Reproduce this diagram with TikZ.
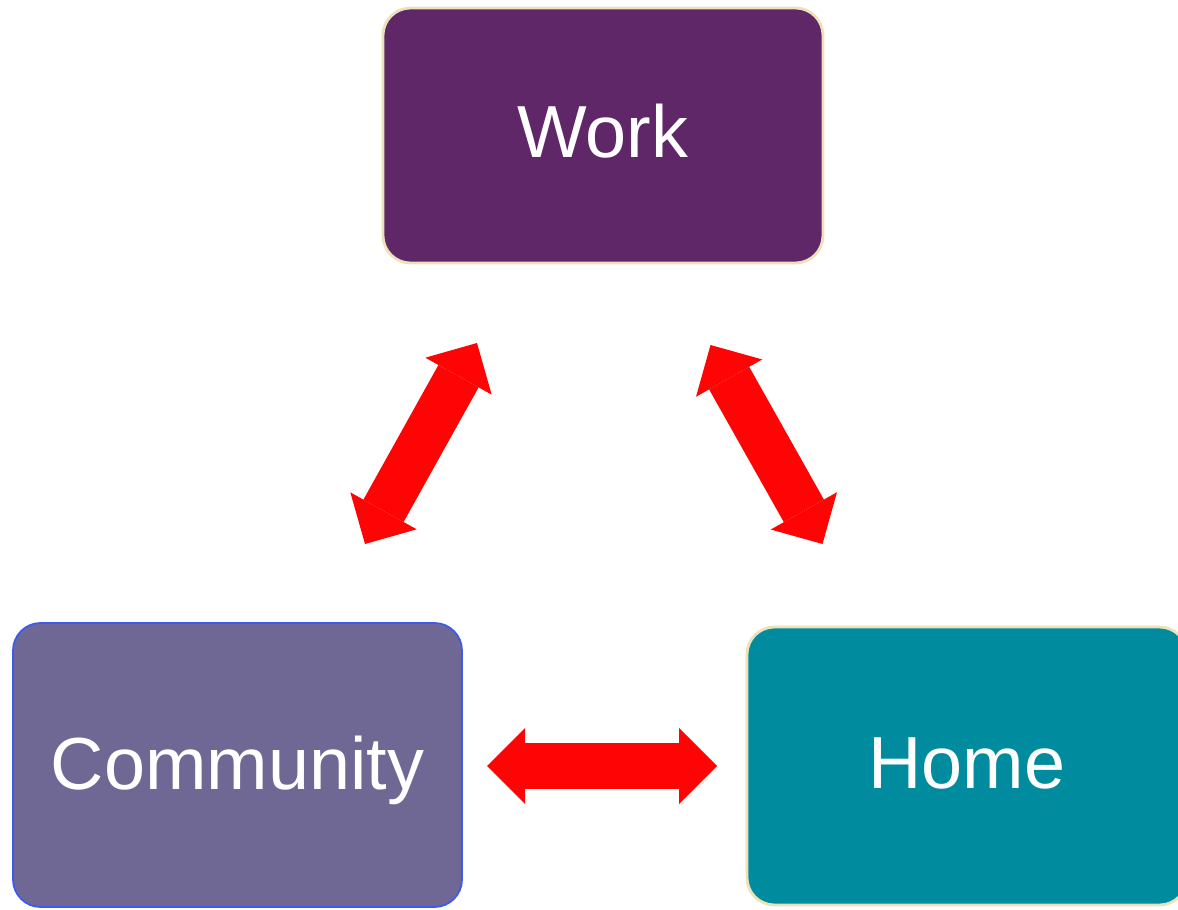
\documentclass[tikz,border=0pt]{standalone}
\usepackage{fontspec}
\setmainfont{Liberation Sans}
\usetikzlibrary{arrows.meta}
\definecolor{workpurple}{RGB}{95,38,104}
\definecolor{commlilac}{RGB}{112,104,148}
\definecolor{hometeal}{RGB}{0,139,158}
\definecolor{rimcream}{RGB}{236,226,186}
\definecolor{rimblue}{RGB}{60,90,240}
\definecolor{arrowred}{RGB}{255,4,4}

\begin{document}
\begin{tikzpicture} [scale = 1,
  box/.style={rectangle, rounded corners=0.55cm, draw=rimcream, line width=1.6pt, text=white, font=\fontsize{42}{50}\selectfont, inner sep=0pt, text depth=0.1cm},
  link/.style={draw=arrowred, line width=0.92cm, {Triangle[length=0.76cm, width=1.52cm, line width=0pt]}-{Triangle[length=0.76cm, width=1.52cm, line width=0pt]}}]
\useasboundingbox (0, 0) rectangle (23.56, 18.18);
\node[box, fill=workpurple, minimum width=8.8cm, minimum height=5.1cm, text depth=0.2cm] (work) at (12.06, 15.47){Work};
\node[box, fill=commlilac, draw=rimblue, line width=1pt, minimum width=8.98cm, minimum height=5.68cm] (community) at (4.75, 2.88){Community};
\node[box, fill=hometeal, minimum width=8.8cm, minimum height=5.56cm] (home) at (19.34, 2.86){Home};
\coordinate (leftTop) at (9.54, 11.32);
\coordinate (leftBot) at (7.30, 7.30);
\coordinate (rightTop) at (14.21, 11.28);
\coordinate (rightBot) at (16.45, 7.30);
\coordinate (midL) at (9.74, 2.86);
\coordinate (midR) at (14.34, 2.86);
\draw[link] (leftBot) -- (leftTop);
\draw[link] (rightTop) -- (rightBot);
\draw[link] (midL) -- (midR);
\end{tikzpicture}
\end{document}
